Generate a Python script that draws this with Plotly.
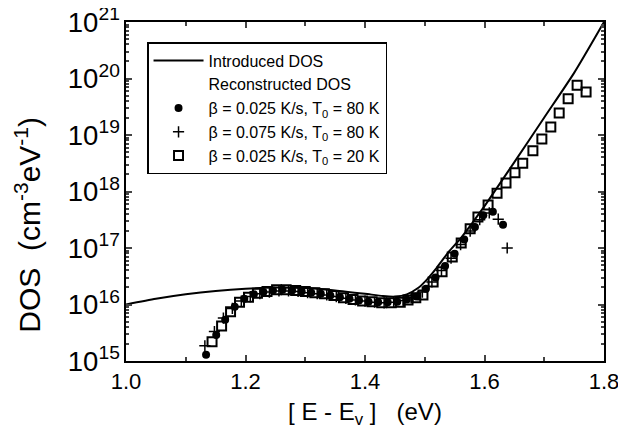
import plotly.graph_objects as go

# Introduced DOS (solid line): energy (eV) and log10(DOS)
line_e = [1.00, 1.05, 1.10, 1.15, 1.20, 1.25, 1.30, 1.35, 1.40, 1.43, 1.45, 1.47,
          1.49, 1.50, 1.52, 1.54, 1.56, 1.58, 1.60, 1.62, 1.65, 1.70, 1.75, 1.80]
line_log = [16.00, 16.10, 16.18, 16.24, 16.28, 16.30, 16.29, 16.25, 16.19, 16.15, 16.14, 16.18,
            16.30, 16.40, 16.65, 16.93, 17.17, 17.45, 17.74, 18.05, 18.52, 19.31, 20.10, 21.00]

# beta = 0.025 K/s, T0 = 80 K (filled circles)
circ_e = [1.134, 1.151, 1.166, 1.182, 1.198, 1.214, 1.230, 1.246, 1.262, 1.278, 1.294,
          1.310, 1.326, 1.342, 1.358, 1.374, 1.390, 1.406, 1.422, 1.438, 1.454, 1.470,
          1.486, 1.502, 1.518, 1.534, 1.550, 1.566, 1.584, 1.598, 1.614, 1.631]
circ_log = [15.11, 15.46, 15.73, 15.96, 16.10, 16.18, 16.22, 16.25, 16.26, 16.25, 16.23,
            16.21, 16.19, 16.16, 16.13, 16.10, 16.07, 16.05, 16.04, 16.04, 16.05, 16.09,
            16.14, 16.28, 16.48, 16.68, 16.90, 17.15, 17.37, 17.58, 17.64, 17.41]

# beta = 0.075 K/s, T0 = 80 K (plus)
plus_e = [1.132, 1.148, 1.163, 1.178, 1.193, 1.208, 1.224, 1.240, 1.256, 1.272, 1.288,
          1.304, 1.320, 1.336, 1.352, 1.368, 1.384, 1.400, 1.416, 1.432, 1.448, 1.464,
          1.480, 1.496, 1.512, 1.528, 1.544, 1.560, 1.576, 1.592, 1.608, 1.623, 1.638]
plus_log = [15.27, 15.52, 15.76, 15.93, 16.06, 16.14, 16.19, 16.22, 16.24, 16.24, 16.23,
            16.21, 16.19, 16.17, 16.14, 16.11, 16.08, 16.06, 16.04, 16.03, 16.04, 16.07,
            16.12, 16.22, 16.40, 16.60, 16.82, 17.06, 17.30, 17.50, 17.62, 17.51, 17.00]

# beta = 0.025 K/s, T0 = 20 K (open squares)
sq_e = [1.144, 1.160, 1.175, 1.190, 1.205, 1.220, 1.236, 1.252, 1.268, 1.284, 1.300,
        1.316, 1.332, 1.348, 1.364, 1.380, 1.396, 1.412, 1.428, 1.444, 1.459, 1.472,
        1.485, 1.497, 1.514, 1.529, 1.546, 1.561, 1.576, 1.589, 1.606, 1.621, 1.636,
        1.651, 1.664, 1.681, 1.696, 1.711, 1.725, 1.740, 1.755, 1.770]
sq_log = [15.34, 15.62, 15.87, 16.04, 16.13, 16.20, 16.23, 16.26, 16.26, 16.25, 16.23,
          16.21, 16.19, 16.16, 16.12, 16.09, 16.06, 16.05, 16.03, 16.03, 16.04, 16.08,
          16.12, 16.17, 16.40, 16.58, 16.84, 17.09, 17.34, 17.55, 17.76, 17.97, 18.15,
          18.33, 18.50, 18.72, 18.93, 19.14, 19.39, 19.64, 19.88, 19.76]

x_ticks = [1.0, 1.2, 1.4, 1.6, 1.8]
x_tick_labels = ["1.0", "1.2", "1.4", "1.6", "1.8"]

def pw(v):
    return [10 ** a for a in v]

FONT = "Arial, Liberation Sans, Helvetica, sans-serif"

fig = go.Figure()
fig.add_trace(go.Scatter(x=line_e, y=pw(line_log), mode="lines",
                         line=dict(color="black", width=2, shape="spline", smoothing=0.6),
                         name="Introduced DOS"))
fig.add_trace(go.Scatter(x=[None], y=[None], mode="markers",
                         marker=dict(color="rgba(0,0,0,0)", size=1),
                         name="Reconstructed DOS"))
fig.add_trace(go.Scatter(x=circ_e, y=pw(circ_log), mode="markers",
                         marker=dict(symbol="circle", size=8, color="black"),
                         name="β = 0.025 K/s, T<sub>0</sub> = 80 K"))
fig.add_trace(go.Scatter(x=plus_e, y=pw(plus_log), mode="markers",
                         marker=dict(symbol="cross-thin", size=8, color="black",
                                     line=dict(color="black", width=1.5)),
                         name="β = 0.075 K/s, T<sub>0</sub> = 80 K"))
fig.add_trace(go.Scatter(x=sq_e, y=pw(sq_log), mode="markers",
                         marker=dict(symbol="square-open", size=9, color="black",
                                     line=dict(color="black", width=2)),
                         name="β = 0.025 K/s, T<sub>0</sub> = 20 K"))

# page body adds ~8 px offset, so figure is sized to compensate
fig.update_layout(
    width=618, height=425,
    margin=dict(l=118, r=22, t=14, b=72),
    paper_bgcolor="white", plot_bgcolor="white",
    font=dict(family=FONT, color="black"),
    showlegend=True,
    legend=dict(x=0.044, y=0.941, xanchor="left", yanchor="top",
                bordercolor="black", borderwidth=1.5, bgcolor="white",
                font=dict(size=16, family=FONT), itemwidth=50,
                tracegroupgap=0),
)
fig.update_xaxes(
    range=[1.0, 1.8], tickvals=x_ticks, ticktext=x_tick_labels,
    ticks="inside", ticklen=6, tickwidth=1.5, linecolor="black", linewidth=1.5,
    mirror="allticks", showline=True, showgrid=False, zeroline=False, automargin=False,
    ticklabeloverflow="allow",
    tickfont=dict(size=22, family=FONT),
    minor=dict(ticks="inside", ticklen=4, dtick=0.1, tick0=1.0, showgrid=False),
    title=dict(text="[ E - E<sub>v</sub> ]&nbsp;&nbsp;&nbsp;(eV)", font=dict(size=24, family=FONT), standoff=10),
)
fig.update_yaxes(
    type="log", range=[15, 21], dtick=1, exponentformat="power", showexponent="all",
    ticks="inside", ticklen=6, tickwidth=1.5, linecolor="black", linewidth=1.5,
    mirror="allticks", showline=True, showgrid=False, zeroline=False, automargin=False,
    ticklabeloverflow="allow",
    tickfont=dict(size=22, family=FONT),
    minor=dict(ticks="inside", ticklen=3, dtick="D1", showgrid=False),
    title=dict(text="DOS&nbsp;&nbsp;(cm<sup>-3</sup>eV<sup>-1</sup>)" + "&nbsp;" * 8,
               font=dict(size=30, family=FONT), standoff=18),
)

fig.write_html("out.html")
